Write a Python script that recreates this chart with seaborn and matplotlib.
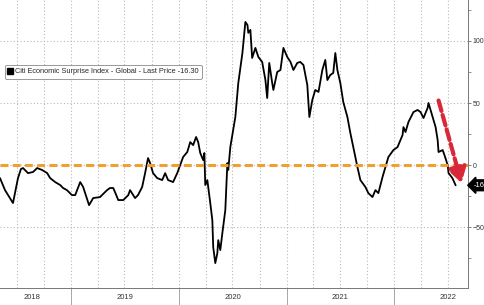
import matplotlib
matplotlib.use("Agg")
import matplotlib.pyplot as plt
import matplotlib.dates as mdates
from matplotlib.lines import Line2D
import seaborn as sns
import pandas as pd

dates = ["2018-05-05","2018-05-22","2018-06-18","2018-07-05","2018-07-15","2018-07-22","2018-08-08","2018-08-25",
"2018-09-08","2018-09-25","2018-10-12","2018-10-22","2018-11-08","2018-11-25","2018-12-05","2018-12-18",
"2019-01-04","2019-01-15","2019-02-01","2019-02-11","2019-03-03","2019-03-17","2019-04-09","2019-05-03",
"2019-05-13","2019-05-24","2019-05-30","2019-06-10","2019-06-27","2019-07-14","2019-07-20","2019-08-06",
"2019-08-16","2019-08-30","2019-09-09","2019-09-19","2019-09-26","2019-10-06","2019-10-20","2019-11-06",
"2019-11-16","2019-11-26","2019-12-13","2019-12-27","2020-01-06","2020-01-16","2020-01-30","2020-02-09",
"2020-02-19","2020-02-29","2020-03-07","2020-03-14","2020-03-24","2020-03-28","2020-03-31","2020-04-07",
"2020-04-17","2020-04-24","2020-04-27","2020-05-04","2020-05-11","2020-05-14","2020-05-21","2020-05-28",
"2020-06-07","2020-06-14","2020-06-17","2020-06-24","2020-07-11","2020-07-21","2020-08-04","2020-08-14",
"2020-08-21","2020-08-24","2020-08-31","2020-09-06","2020-09-17","2020-09-27","2020-10-10","2020-10-21",
"2020-10-27","2020-11-03","2020-11-13","2020-11-17","2020-11-30","2020-12-11","2020-12-21","2021-01-03",
"2021-01-14","2021-01-24","2021-02-06","2021-02-16","2021-02-27","2021-03-12","2021-03-19","2021-03-29",
"2021-04-08","2021-04-19","2021-05-02","2021-05-12","2021-05-19","2021-05-29","2021-06-08","2021-06-15",
"2021-06-22","2021-07-02","2021-07-12","2021-07-26","2021-08-05","2021-08-15","2021-08-29","2021-09-08",
"2021-09-25","2021-10-05","2021-10-19","2021-10-29","2021-11-08","2021-11-22","2021-12-02","2021-12-12",
"2021-12-29","2022-01-12","2022-01-29","2022-02-01","2022-02-08","2022-02-18","2022-03-07","2022-03-21",
"2022-03-31","2022-04-10","2022-04-24","2022-04-27","2022-05-04","2022-05-11","2022-05-21","2022-05-28",
"2022-05-31","2022-06-14","2022-06-20","2022-07-01","2022-07-04","2022-07-17","2022-07-28"]

cesi = [-10.5,-20.2,-30.6,-10.5,-3.2,-2.4,-6.5,-5.6,
-2.4,-4.0,-6.5,-10.5,-13.7,-16.1,-18.5,-20.2,
-24.2,-24.2,-13.7,-17.7,-32.3,-26.6,-25.8,-20.2,
-18.5,-18.5,-21.8,-28.2,-28.2,-24.2,-20.2,-26.6,
-24.2,-17.7,-6.5,5.6,1.6,-6.5,-10.5,-12.1,
-6.5,-12.1,-13.7,-6.5,0.0,6.5,10.5,18.5,
16.1,22.6,18.5,9.7,4.0,9.7,-16.1,-12.1,
-30.6,-44.4,-66.1,-79.0,-71.0,-60.5,-68.5,-54.8,
-36.3,1.6,-4.0,14.5,38.7,66.1,90.3,115.3,
112.9,106.5,108.9,86.3,94.4,87.1,83.1,68.5,
54.0,82.3,66.1,60.5,75.0,76.6,94.4,87.1,
83.1,76.6,82.3,83.1,80.6,64.5,38.7,52.4,
60.5,58.9,76.6,84.7,68.5,72.6,74.2,90.3,
76.6,66.1,50.8,38.7,25.8,14.5,-1.6,-12.1,
-17.7,-22.6,-25.8,-20.2,-22.6,-9.7,-1.6,6.5,
12.1,14.5,24.2,30.6,26.6,34.7,42.7,44.4,
42.7,37.9,46.0,50.0,44.4,38.7,30.6,20.2,
10.5,12.1,8.1,0.0,-6.5,-10.5,-16.3]

year_labels = ["2018", "2019", "2020", "2021", "2022"]
year_label_dates = ["2018-08-20", "2019-07-02", "2020-07-02", "2021-07-02", "2022-07-02"]
y_ticks = [100, 50, 0, -50]
series_name = "Citi Economic Surprise Index - Global - Last Price -16.30"
last_price = "-16.30"

df = pd.DataFrame({"date": pd.to_datetime(dates), "value": cesi})

sns.set_style("white")
plt.rcParams["font.family"] = ["Liberation Sans", "DejaVu Sans"]

fig = plt.figure(figsize=(4.85, 3.05), dpi=100)
ax = fig.add_axes([0.0, 0.056, 0.965, 0.944])

sns.lineplot(data=df, x="date", y="value", ax=ax, color="black", lw=1.3, zorder=3)

ax.set_xlim(pd.Timestamp("2018-05-05"), pd.Timestamp("2022-09-08"))
ax.set_ylim(-99, 133)

grid_kw = dict(color="#b8b8b8", ls=(0, (1, 2)), lw=0.8)
ax.xaxis.set_major_locator(mdates.MonthLocator(bymonth=[1, 4, 7, 10]))
ax.xaxis.set_minor_locator(mdates.MonthLocator())
ax.xaxis.set_major_formatter(plt.NullFormatter())
ax.grid(True, axis="x", which="major", **grid_kw)
ax.yaxis.set_major_locator(plt.FixedLocator(y_ticks))
ax.yaxis.set_minor_locator(plt.MultipleLocator(25))
ax.grid(True, axis="y", which="major", **grid_kw)

ax.yaxis.tick_right()
ax.tick_params(axis="y", which="major", length=2.5, width=0.6, color="#666666",
               labelsize=5.0, labelcolor="#333333", pad=0.8, direction="out")
ax.tick_params(axis="y", which="minor", length=1.8, width=0.5, color="#666666", direction="out")
ax.tick_params(axis="x", which="major", length=3, width=0.5, color="#777777", direction="in")
ax.tick_params(axis="x", which="minor", length=2, width=0.5, color="#777777", direction="in")

for s in ["top", "left"]:
    ax.spines[s].set_visible(False)
for s in ["right", "bottom"]:
    ax.spines[s].set_color("#777777")
    ax.spines[s].set_linewidth(0.7)
ax.set_xlabel("")
ax.set_ylabel("")

# year separators
sec = ax.secondary_xaxis("bottom")
sec.xaxis.set_major_locator(mdates.YearLocator())
sec.xaxis.set_major_formatter(plt.NullFormatter())
sec.tick_params(axis="x", length=16, width=0.6, color="#999999", direction="out")
sec.spines["bottom"].set_visible(False)

for lab, d in zip(year_labels, year_label_dates):
    ax.text(pd.Timestamp(d), -0.035, lab, transform=ax.get_xaxis_transform(),
            ha="center", va="center", fontsize=5.5, color="#333333")

# zero line
ax.axhline(0, color="#f0a030", lw=2.2, ls=(0, (2.6, 1.4)), zorder=4)

# red dashed arrow
ax.annotate("", xy=(pd.Timestamp("2022-08-17"), -14.5), xytext=(pd.Timestamp("2022-05-31"), 52),
            arrowprops=dict(arrowstyle="-|>,head_length=0.9,head_width=0.55", color="#d8283a",
                            lw=3, ls=(0, (2.6, 1.0)), shrinkA=0, shrinkB=0), zorder=5)

# legend
handle = Line2D([], [], marker="s", color="black", ls="none", markersize=5)
leg = ax.legend([handle], [series_name], loc="upper left", bbox_to_anchor=(0.01, 0.775),
                fontsize=5.3, frameon=True, fancybox=True, framealpha=1, edgecolor="#999999",
                handlelength=0.6, handletextpad=0.3, borderpad=0.45, borderaxespad=0)
leg.get_frame().set_linewidth(0.7)

# last price label
ax.annotate(last_price, xy=(1.0, -16.3), xycoords=("axes fraction", "data"),
            xytext=(1.012, -16.3), textcoords=("axes fraction", "data"),
            fontsize=5.5, color="white", va="center", ha="left",
            bbox=dict(boxstyle="larrow,pad=0.25", fc="black", ec="black"), annotation_clip=False)

fig.savefig("out.png", dpi=100)
